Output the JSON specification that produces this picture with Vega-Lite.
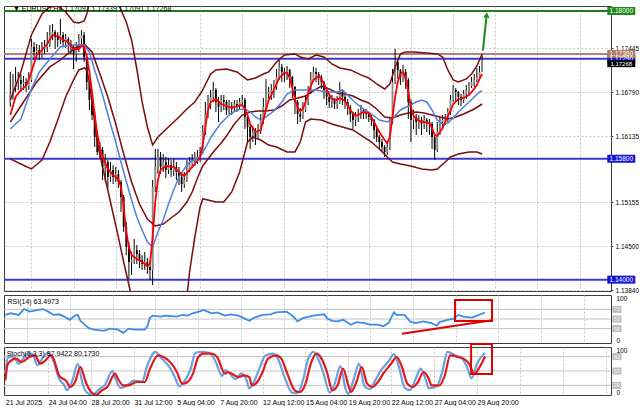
{
"$schema":"https://vega.github.io/schema/vega-lite/v6.json",
"background":"#ffffff",
"padding":{"left":0,"top":4,"right":0,"bottom":0},
"bounds":"flush",
"spacing":4,
"config":{"font":"Liberation Sans","view":{"stroke":"#3c3c3c","strokeWidth":1},"axis":{"labelFont":"Liberation Sans","labelFontSize":7,"labelColor":"#000000"}},
"datasets":{
"hl":[{"p":1.18,"k":"g"},{"p":1.1736,"k":"br"},{"p":1.1729,"k":"b"},{"p":1.158,"k":"b"},{"p":1.14,"k":"b"}],
"lab":[{"p":1.18,"t":"1.18000","k":"g"},{"p":1.1729,"t":"1.17290","k":"b"},{"p":1.1736,"t":"1.17360","k":"br"},{"p":1.158,"t":"1.15800","k":"b"},{"p":1.14,"t":"1.14000","k":"b"},{"p":1.17268,"t":"1.17268","k":"k"}],
"arr":[{"i":179.3,"p":1.1741,"i2":180.6,"p2":1.1790}],
"arrh":[{"i":180.7,"p":1.1794}],
"cd":[
{"i":0,"o":1.16645,"h":1.17092,"l":1.16571,"c":1.16764},
{"i":1,"o":1.16764,"h":1.17062,"l":1.16675,"c":1.16869},
{"i":2,"o":1.16869,"h":1.17167,"l":1.16794,"c":1.16943},
{"i":3,"o":1.16943,"h":1.17092,"l":1.16824,"c":1.16973},
{"i":4,"o":1.16973,"h":1.17062,"l":1.16794,"c":1.16913},
{"i":5,"o":1.16913,"h":1.17032,"l":1.16824,"c":1.16943},
{"i":6,"o":1.16943,"h":1.17003,"l":1.16794,"c":1.16883},
{"i":7,"o":1.16883,"h":1.17092,"l":1.16824,"c":1.16973},
{"i":8,"o":1.16973,"h":1.17583,"l":1.16943,"c":1.17464},
{"i":9,"o":1.17464,"h":1.17538,"l":1.17270,"c":1.17389},
{"i":10,"o":1.17389,"h":1.17508,"l":1.17285,"c":1.17419},
{"i":11,"o":1.17419,"h":1.17493,"l":1.17270,"c":1.17359},
{"i":12,"o":1.17359,"h":1.17538,"l":1.17300,"c":1.17434},
{"i":13,"o":1.17434,"h":1.17568,"l":1.17359,"c":1.17464},
{"i":14,"o":1.17464,"h":1.17687,"l":1.17389,"c":1.17508},
{"i":15,"o":1.17508,"h":1.17791,"l":1.17464,"c":1.17642},
{"i":16,"o":1.17642,"h":1.17806,"l":1.17568,"c":1.17687},
{"i":17,"o":1.17687,"h":1.17717,"l":1.17434,"c":1.17613},
{"i":18,"o":1.17613,"h":1.17687,"l":1.17464,"c":1.17568},
{"i":19,"o":1.17568,"h":1.17881,"l":1.17508,"c":1.17642},
{"i":20,"o":1.17642,"h":1.17687,"l":1.17464,"c":1.17538},
{"i":21,"o":1.17538,"h":1.17657,"l":1.17449,"c":1.17583},
{"i":22,"o":1.17583,"h":1.17613,"l":1.17389,"c":1.17508},
{"i":23,"o":1.17508,"h":1.17568,"l":1.17359,"c":1.17464},
{"i":24,"o":1.17464,"h":1.17493,"l":1.17137,"c":1.17359},
{"i":25,"o":1.17359,"h":1.17538,"l":1.17241,"c":1.17464},
{"i":26,"o":1.17464,"h":1.17657,"l":1.17389,"c":1.17583},
{"i":27,"o":1.17583,"h":1.17717,"l":1.17493,"c":1.17642},
{"i":28,"o":1.17642,"h":1.17687,"l":1.17241,"c":1.17315},
{"i":29,"o":1.17315,"h":1.17359,"l":1.16824,"c":1.16943},
{"i":30,"o":1.16943,"h":1.16973,"l":1.16526,"c":1.16675},
{"i":31,"o":1.16675,"h":1.16720,"l":1.16377,"c":1.16451},
{"i":32,"o":1.16451,"h":1.16496,"l":1.15975,"c":1.16124},
{"i":33,"o":1.16124,"h":1.16198,"l":1.15856,"c":1.15901},
{"i":34,"o":1.15901,"h":1.16049,"l":1.15811,"c":1.15930},
{"i":35,"o":1.15930,"h":1.15975,"l":1.15484,"c":1.15678},
{"i":36,"o":1.15678,"h":1.15871,"l":1.15454,"c":1.15752},
{"i":37,"o":1.15752,"h":1.15782,"l":1.15350,"c":1.15529},
{"i":38,"o":1.15529,"h":1.15752,"l":1.15454,"c":1.15633},
{"i":39,"o":1.15633,"h":1.15707,"l":1.15424,"c":1.15529},
{"i":40,"o":1.15529,"h":1.15678,"l":1.15454,"c":1.15573},
{"i":41,"o":1.15573,"h":1.15633,"l":1.15365,"c":1.15454},
{"i":42,"o":1.15454,"h":1.15484,"l":1.15007,"c":1.15231},
{"i":43,"o":1.15231,"h":1.15260,"l":1.14709,"c":1.14784},
{"i":44,"o":1.14784,"h":1.14858,"l":1.14366,"c":1.14486},
{"i":45,"o":1.14486,"h":1.14560,"l":1.14010,"c":1.14263},
{"i":46,"o":1.14263,"h":1.14411,"l":1.14069,"c":1.14292},
{"i":47,"o":1.14292,"h":1.14605,"l":1.14233,"c":1.14441},
{"i":48,"o":1.14441,"h":1.14515,"l":1.14233,"c":1.14381},
{"i":49,"o":1.14381,"h":1.14441,"l":1.14174,"c":1.14292},
{"i":50,"o":1.14292,"h":1.14366,"l":1.14144,"c":1.14233},
{"i":51,"o":1.14233,"h":1.14411,"l":1.14144,"c":1.14263},
{"i":52,"o":1.14263,"h":1.14322,"l":1.14084,"c":1.14189},
{"i":53,"o":1.14189,"h":1.14292,"l":1.13995,"c":1.14144},
{"i":54,"o":1.14144,"h":1.15484,"l":1.13920,"c":1.15380},
{"i":55,"o":1.15380,"h":1.15946,"l":1.15305,"c":1.15678},
{"i":56,"o":1.15678,"h":1.15946,"l":1.15573,"c":1.15827},
{"i":57,"o":1.15827,"h":1.15901,"l":1.15573,"c":1.15678},
{"i":58,"o":1.15678,"h":1.15871,"l":1.15603,"c":1.15752},
{"i":59,"o":1.15752,"h":1.15827,"l":1.15514,"c":1.15633},
{"i":60,"o":1.15633,"h":1.15811,"l":1.15573,"c":1.15707},
{"i":61,"o":1.15707,"h":1.15782,"l":1.15529,"c":1.15633},
{"i":62,"o":1.15633,"h":1.15797,"l":1.15544,"c":1.15678},
{"i":63,"o":1.15678,"h":1.15752,"l":1.15484,"c":1.15603},
{"i":64,"o":1.15603,"h":1.15678,"l":1.15409,"c":1.15529},
{"i":65,"o":1.15529,"h":1.15603,"l":1.15305,"c":1.15424},
{"i":66,"o":1.15424,"h":1.15603,"l":1.15365,"c":1.15484},
{"i":67,"o":1.15484,"h":1.15782,"l":1.15454,"c":1.15633},
{"i":68,"o":1.15633,"h":1.15827,"l":1.15603,"c":1.15722},
{"i":69,"o":1.15722,"h":1.15871,"l":1.15663,"c":1.15782},
{"i":70,"o":1.15782,"h":1.15901,"l":1.15692,"c":1.15811},
{"i":71,"o":1.15811,"h":1.15930,"l":1.15722,"c":1.15827},
{"i":72,"o":1.15827,"h":1.15975,"l":1.15752,"c":1.15901},
{"i":73,"o":1.15901,"h":1.16303,"l":1.15871,"c":1.16198},
{"i":74,"o":1.16198,"h":1.16645,"l":1.16154,"c":1.16466},
{"i":75,"o":1.16466,"h":1.16749,"l":1.16407,"c":1.16645},
{"i":76,"o":1.16645,"h":1.16824,"l":1.16541,"c":1.16720},
{"i":77,"o":1.16720,"h":1.16943,"l":1.16645,"c":1.16824},
{"i":78,"o":1.16824,"h":1.16854,"l":1.16496,"c":1.16645},
{"i":79,"o":1.16645,"h":1.16720,"l":1.16347,"c":1.16571},
{"i":80,"o":1.16571,"h":1.16749,"l":1.16496,"c":1.16675},
{"i":81,"o":1.16675,"h":1.16749,"l":1.16526,"c":1.16645},
{"i":82,"o":1.16645,"h":1.16675,"l":1.16451,"c":1.16526},
{"i":83,"o":1.16526,"h":1.16675,"l":1.16466,"c":1.16585},
{"i":84,"o":1.16585,"h":1.16645,"l":1.16451,"c":1.16556},
{"i":85,"o":1.16556,"h":1.16675,"l":1.16496,"c":1.16615},
{"i":86,"o":1.16615,"h":1.16675,"l":1.16496,"c":1.16585},
{"i":87,"o":1.16585,"h":1.16705,"l":1.16541,"c":1.16645},
{"i":88,"o":1.16645,"h":1.16749,"l":1.16585,"c":1.16675},
{"i":89,"o":1.16675,"h":1.16705,"l":1.16243,"c":1.16422},
{"i":90,"o":1.16422,"h":1.16466,"l":1.16049,"c":1.16273},
{"i":91,"o":1.16273,"h":1.16318,"l":1.15946,"c":1.16124},
{"i":92,"o":1.16124,"h":1.16288,"l":1.16049,"c":1.16198},
{"i":93,"o":1.16198,"h":1.16258,"l":1.16004,"c":1.16124},
{"i":94,"o":1.16124,"h":1.16318,"l":1.16079,"c":1.16228},
{"i":95,"o":1.16228,"h":1.16466,"l":1.16168,"c":1.16377},
{"i":96,"o":1.16377,"h":1.16705,"l":1.16318,"c":1.16571},
{"i":97,"o":1.16571,"h":1.16988,"l":1.16526,"c":1.16764},
{"i":98,"o":1.16764,"h":1.16869,"l":1.16645,"c":1.16794},
{"i":99,"o":1.16794,"h":1.16913,"l":1.16675,"c":1.16824},
{"i":100,"o":1.16824,"h":1.16973,"l":1.16705,"c":1.16869},
{"i":101,"o":1.16869,"h":1.17137,"l":1.16824,"c":1.17018},
{"i":102,"o":1.17018,"h":1.17285,"l":1.16973,"c":1.17167},
{"i":103,"o":1.17167,"h":1.17211,"l":1.16943,"c":1.17092},
{"i":104,"o":1.17092,"h":1.17152,"l":1.16943,"c":1.17062},
{"i":105,"o":1.17062,"h":1.17181,"l":1.16973,"c":1.17122},
{"i":106,"o":1.17122,"h":1.17137,"l":1.16854,"c":1.17018},
{"i":107,"o":1.17018,"h":1.17033,"l":1.16705,"c":1.16869},
{"i":108,"o":1.16869,"h":1.16883,"l":1.16466,"c":1.16645},
{"i":109,"o":1.16645,"h":1.16675,"l":1.16318,"c":1.16466},
{"i":110,"o":1.16466,"h":1.16556,"l":1.16347,"c":1.16422},
{"i":111,"o":1.16422,"h":1.16645,"l":1.16392,"c":1.16526},
{"i":112,"o":1.16526,"h":1.16749,"l":1.16496,"c":1.16645},
{"i":113,"o":1.16645,"h":1.16883,"l":1.16600,"c":1.16794},
{"i":114,"o":1.16794,"h":1.17092,"l":1.16764,"c":1.16973},
{"i":115,"o":1.16973,"h":1.17167,"l":1.16943,"c":1.17092},
{"i":116,"o":1.17092,"h":1.17152,"l":1.16943,"c":1.17062},
{"i":117,"o":1.17062,"h":1.17092,"l":1.16898,"c":1.17018},
{"i":118,"o":1.17018,"h":1.17048,"l":1.16839,"c":1.16943},
{"i":119,"o":1.16943,"h":1.16958,"l":1.16690,"c":1.16824},
{"i":120,"o":1.16824,"h":1.16839,"l":1.16600,"c":1.16720},
{"i":121,"o":1.16720,"h":1.16764,"l":1.16556,"c":1.16645},
{"i":122,"o":1.16645,"h":1.16749,"l":1.16556,"c":1.16675},
{"i":123,"o":1.16675,"h":1.16705,"l":1.16541,"c":1.16615},
{"i":124,"o":1.16615,"h":1.16734,"l":1.16541,"c":1.16645},
{"i":125,"o":1.16645,"h":1.16943,"l":1.16615,"c":1.16794},
{"i":126,"o":1.16794,"h":1.16839,"l":1.16600,"c":1.16720},
{"i":127,"o":1.16720,"h":1.16749,"l":1.16541,"c":1.16645},
{"i":128,"o":1.16645,"h":1.16690,"l":1.16451,"c":1.16571},
{"i":129,"o":1.16571,"h":1.16600,"l":1.16347,"c":1.16466},
{"i":130,"o":1.16466,"h":1.16496,"l":1.16243,"c":1.16377},
{"i":131,"o":1.16377,"h":1.16496,"l":1.16288,"c":1.16422},
{"i":132,"o":1.16422,"h":1.16541,"l":1.16347,"c":1.16466},
{"i":133,"o":1.16466,"h":1.16600,"l":1.16392,"c":1.16526},
{"i":134,"o":1.16526,"h":1.16556,"l":1.16392,"c":1.16496},
{"i":135,"o":1.16496,"h":1.16541,"l":1.16392,"c":1.16466},
{"i":136,"o":1.16466,"h":1.16496,"l":1.16347,"c":1.16422},
{"i":137,"o":1.16422,"h":1.16451,"l":1.16288,"c":1.16377},
{"i":138,"o":1.16377,"h":1.16392,"l":1.16094,"c":1.16228},
{"i":139,"o":1.16228,"h":1.16258,"l":1.16049,"c":1.16124},
{"i":140,"o":1.16124,"h":1.16154,"l":1.15946,"c":1.16049},
{"i":141,"o":1.16049,"h":1.16094,"l":1.15901,"c":1.15975},
{"i":142,"o":1.15975,"h":1.16004,"l":1.15827,"c":1.15901},
{"i":143,"o":1.15901,"h":1.16049,"l":1.15856,"c":1.15975},
{"i":144,"o":1.15975,"h":1.16422,"l":1.15930,"c":1.16347},
{"i":145,"o":1.16347,"h":1.17137,"l":1.16318,"c":1.16943},
{"i":146,"o":1.16943,"h":1.17434,"l":1.16913,"c":1.17241},
{"i":147,"o":1.17241,"h":1.17285,"l":1.16988,"c":1.17122},
{"i":148,"o":1.17122,"h":1.17137,"l":1.16898,"c":1.17018},
{"i":149,"o":1.17018,"h":1.17196,"l":1.16943,"c":1.17092},
{"i":150,"o":1.17092,"h":1.17137,"l":1.16839,"c":1.16973},
{"i":151,"o":1.16973,"h":1.17003,"l":1.16392,"c":1.16645},
{"i":152,"o":1.16645,"h":1.16675,"l":1.16049,"c":1.16377},
{"i":153,"o":1.16377,"h":1.16526,"l":1.16243,"c":1.16422},
{"i":154,"o":1.16422,"h":1.16466,"l":1.16154,"c":1.16347},
{"i":155,"o":1.16347,"h":1.16451,"l":1.16243,"c":1.16377},
{"i":156,"o":1.16377,"h":1.16422,"l":1.16154,"c":1.16318},
{"i":157,"o":1.16318,"h":1.16451,"l":1.16243,"c":1.16377},
{"i":158,"o":1.16377,"h":1.16407,"l":1.16198,"c":1.16347},
{"i":159,"o":1.16347,"h":1.16392,"l":1.16154,"c":1.16318},
{"i":160,"o":1.16318,"h":1.16347,"l":1.15946,"c":1.16124},
{"i":161,"o":1.16124,"h":1.16154,"l":1.15782,"c":1.15930},
{"i":162,"o":1.15930,"h":1.16347,"l":1.15901,"c":1.16198},
{"i":163,"o":1.16198,"h":1.16422,"l":1.16154,"c":1.16347},
{"i":164,"o":1.16347,"h":1.16451,"l":1.16243,"c":1.16377},
{"i":165,"o":1.16377,"h":1.16466,"l":1.16303,"c":1.16422},
{"i":166,"o":1.16422,"h":1.16556,"l":1.16347,"c":1.16496},
{"i":167,"o":1.16496,"h":1.16749,"l":1.16451,"c":1.16675},
{"i":168,"o":1.16675,"h":1.16898,"l":1.16645,"c":1.16824},
{"i":169,"o":1.16824,"h":1.16854,"l":1.16645,"c":1.16794},
{"i":170,"o":1.16794,"h":1.16809,"l":1.16600,"c":1.16720},
{"i":171,"o":1.16720,"h":1.16764,"l":1.16585,"c":1.16675},
{"i":172,"o":1.16675,"h":1.16824,"l":1.16630,"c":1.16764},
{"i":173,"o":1.16764,"h":1.16898,"l":1.16690,"c":1.16824},
{"i":174,"o":1.16824,"h":1.16943,"l":1.16764,"c":1.16883},
{"i":175,"o":1.16883,"h":1.17018,"l":1.16854,"c":1.16943},
{"i":176,"o":1.16943,"h":1.17062,"l":1.16869,"c":1.16973},
{"i":177,"o":1.16973,"h":1.17152,"l":1.16943,"c":1.17018},
{"i":178,"o":1.17018,"h":1.17181,"l":1.16973,"c":1.17091},
{"i":179,"o":1.17091,"h":1.17339,"l":1.17091,"c":1.17268}
],
"red":[{"i":0,"v":1.16451},{"i":2,"v":1.16720},{"i":4,"v":1.16824},{"i":6,"v":1.16883},{"i":8,"v":1.17092},{"i":10,"v":1.17345},{"i":12,"v":1.17419},{"i":14,"v":1.17508},{"i":16,"v":1.17642},{"i":18,"v":1.17627},{"i":20,"v":1.17568},{"i":22,"v":1.17538},{"i":24,"v":1.17434},{"i":26,"v":1.17434},{"i":27,"v":1.17478},{"i":28,"v":1.17464},{"i":29,"v":1.17315},{"i":30,"v":1.17092},{"i":31,"v":1.16794},{"i":32,"v":1.16466},{"i":33,"v":1.16168},{"i":34,"v":1.15975},{"i":35,"v":1.15827},{"i":37,"v":1.15648},{"i":39,"v":1.15558},{"i":41,"v":1.15499},{"i":42,"v":1.15380},{"i":43,"v":1.15082},{"i":44,"v":1.14709},{"i":45,"v":1.14486},{"i":46,"v":1.14366},{"i":48,"v":1.14307},{"i":50,"v":1.14263},{"i":52,"v":1.14203},{"i":53,"v":1.14233},{"i":54,"v":1.14635},{"i":55,"v":1.15156},{"i":56,"v":1.15484},{"i":57,"v":1.15633},{"i":59,"v":1.15692},{"i":62,"v":1.15678},{"i":64,"v":1.15603},{"i":66,"v":1.15544},{"i":68,"v":1.15633},{"i":70,"v":1.15722},{"i":72,"v":1.15827},{"i":73,"v":1.16005},{"i":74,"v":1.16273},{"i":75,"v":1.16526},{"i":76,"v":1.16645},{"i":78,"v":1.16690},{"i":80,"v":1.16615},{"i":82,"v":1.16585},{"i":84,"v":1.16556},{"i":86,"v":1.16585},{"i":88,"v":1.16600},{"i":89,"v":1.16541},{"i":90,"v":1.16451},{"i":91,"v":1.16318},{"i":93,"v":1.16198},{"i":95,"v":1.16228},{"i":96,"v":1.16377},{"i":97,"v":1.16526},{"i":98,"v":1.16675},{"i":100,"v":1.16824},{"i":102,"v":1.17003},{"i":104,"v":1.17077},{"i":105,"v":1.17077},{"i":106,"v":1.17003},{"i":107,"v":1.16854},{"i":108,"v":1.16690},{"i":109,"v":1.16556},{"i":110,"v":1.16511},{"i":111,"v":1.16541},{"i":112,"v":1.16645},{"i":113,"v":1.16764},{"i":114,"v":1.16883},{"i":115,"v":1.16973},{"i":117,"v":1.17033},{"i":118,"v":1.16988},{"i":119,"v":1.16913},{"i":120,"v":1.16824},{"i":122,"v":1.16690},{"i":124,"v":1.16675},{"i":125,"v":1.16705},{"i":127,"v":1.16660},{"i":129,"v":1.16526},{"i":131,"v":1.16437},{"i":132,"v":1.16451},{"i":134,"v":1.16496},{"i":136,"v":1.16481},{"i":138,"v":1.16347},{"i":140,"v":1.16198},{"i":142,"v":1.16079},{"i":143,"v":1.16034},{"i":144,"v":1.16124},{"i":145,"v":1.16422},{"i":146,"v":1.16720},{"i":147,"v":1.16943},{"i":148,"v":1.17062},{"i":149,"v":1.17092},{"i":150,"v":1.17003},{"i":151,"v":1.16794},{"i":152,"v":1.16571},{"i":153,"v":1.16437},{"i":155,"v":1.16362},{"i":157,"v":1.16347},{"i":159,"v":1.16332},{"i":160,"v":1.16258},{"i":161,"v":1.16154},{"i":162,"v":1.16139},{"i":163,"v":1.16198},{"i":164,"v":1.16258},{"i":165,"v":1.16347},{"i":166,"v":1.16437},{"i":167,"v":1.16511},{"i":168,"v":1.16615},{"i":170,"v":1.16690},{"i":172,"v":1.16705},{"i":174,"v":1.16749},{"i":176,"v":1.16839},{"i":177,"v":1.16898},{"i":178,"v":1.16988},{"i":179,"v":1.17062}],
"blue":[{"i":0,"v":1.16243},{"i":4,"v":1.16392},{"i":8,"v":1.16839},{"i":11,"v":1.17092},{"i":15,"v":1.17285},{"i":19,"v":1.17464},{"i":24,"v":1.17493},{"i":28,"v":1.17493},{"i":30,"v":1.17389},{"i":32,"v":1.17122},{"i":35,"v":1.16749},{"i":38,"v":1.16318},{"i":40,"v":1.16049},{"i":43,"v":1.15603},{"i":46,"v":1.15186},{"i":48,"v":1.14933},{"i":50,"v":1.14739},{"i":52,"v":1.14560},{"i":54,"v":1.14486},{"i":56,"v":1.14709},{"i":58,"v":1.14888},{"i":60,"v":1.15126},{"i":62,"v":1.15335},{"i":64,"v":1.15529},{"i":66,"v":1.15648},{"i":68,"v":1.15752},{"i":70,"v":1.15782},{"i":72,"v":1.15827},{"i":74,"v":1.15960},{"i":76,"v":1.16109},{"i":78,"v":1.16228},{"i":80,"v":1.16332},{"i":83,"v":1.16451},{"i":86,"v":1.16526},{"i":89,"v":1.16541},{"i":91,"v":1.16496},{"i":93,"v":1.16422},{"i":95,"v":1.16377},{"i":97,"v":1.16422},{"i":100,"v":1.16511},{"i":103,"v":1.16645},{"i":105,"v":1.16764},{"i":108,"v":1.16824},{"i":112,"v":1.16824},{"i":116,"v":1.16824},{"i":120,"v":1.16794},{"i":124,"v":1.16794},{"i":126,"v":1.16824},{"i":128,"v":1.16749},{"i":131,"v":1.16630},{"i":134,"v":1.16541},{"i":137,"v":1.16466},{"i":140,"v":1.16377},{"i":143,"v":1.16347},{"i":145,"v":1.16392},{"i":148,"v":1.16526},{"i":151,"v":1.16585},{"i":154,"v":1.16645},{"i":156,"v":1.16675},{"i":158,"v":1.16645},{"i":160,"v":1.16526},{"i":162,"v":1.16377},{"i":164,"v":1.16318},{"i":166,"v":1.16332},{"i":168,"v":1.16407},{"i":170,"v":1.16496},{"i":172,"v":1.16571},{"i":174,"v":1.16645},{"i":176,"v":1.16720},{"i":178,"v":1.16794},{"i":179,"v":1.16809}],
"bu":[{"i":0,"v":1.16675},{"i":4,"v":1.17092},{"i":8,"v":1.17642},{"i":12,"v":1.17955},{"i":15,"v":1.18060},{"i":18,"v":1.18075},{"i":21,"v":1.17985},{"i":24,"v":1.17836},{"i":26,"v":1.17821},{"i":28,"v":1.17851},{"i":29,"v":1.17955},{"i":30,"v":1.18134},{"i":32,"v":1.18357},{"i":36,"v":1.18506},{"i":40,"v":1.18208},{"i":42,"v":1.18015},{"i":44,"v":1.17836},{"i":46,"v":1.17568},{"i":48,"v":1.17136},{"i":50,"v":1.16645},{"i":52,"v":1.16273},{"i":54,"v":1.16004},{"i":56,"v":1.16124},{"i":60,"v":1.16273},{"i":64,"v":1.16422},{"i":67,"v":1.16541},{"i":70,"v":1.16645},{"i":73,"v":1.16824},{"i":76,"v":1.17062},{"i":78,"v":1.17122},{"i":82,"v":1.17137},{"i":86,"v":1.17092},{"i":90,"v":1.16973},{"i":93,"v":1.17003},{"i":96,"v":1.17062},{"i":98,"v":1.17092},{"i":101,"v":1.17241},{"i":104,"v":1.17345},{"i":108,"v":1.17360},{"i":110,"v":1.17315},{"i":113,"v":1.17285},{"i":116,"v":1.17345},{"i":119,"v":1.17315},{"i":122,"v":1.17211},{"i":125,"v":1.17152},{"i":129,"v":1.17122},{"i":133,"v":1.17048},{"i":136,"v":1.17003},{"i":139,"v":1.16913},{"i":142,"v":1.16839},{"i":144,"v":1.16913},{"i":146,"v":1.17167},{"i":148,"v":1.17360},{"i":150,"v":1.17389},{"i":153,"v":1.17389},{"i":158,"v":1.17375},{"i":162,"v":1.17360},{"i":164,"v":1.17315},{"i":166,"v":1.17122},{"i":168,"v":1.16973},{"i":170,"v":1.16943},{"i":173,"v":1.16988},{"i":175,"v":1.17062},{"i":177,"v":1.17181},{"i":179,"v":1.17360}],
"bm":[{"i":0,"v":1.16347},{"i":5,"v":1.16645},{"i":10,"v":1.16943},{"i":15,"v":1.17167},{"i":19,"v":1.17270},{"i":24,"v":1.17434},{"i":28,"v":1.17508},{"i":31,"v":1.17389},{"i":34,"v":1.17062},{"i":37,"v":1.16720},{"i":40,"v":1.16317},{"i":43,"v":1.15871},{"i":46,"v":1.15454},{"i":49,"v":1.15126},{"i":52,"v":1.14903},{"i":55,"v":1.14798},{"i":58,"v":1.14828},{"i":61,"v":1.14918},{"i":64,"v":1.15007},{"i":67,"v":1.15156},{"i":69,"v":1.15305},{"i":71,"v":1.15514},{"i":73,"v":1.15692},{"i":75,"v":1.15797},{"i":77,"v":1.15901},{"i":80,"v":1.16034},{"i":82,"v":1.16138},{"i":85,"v":1.16317},{"i":88,"v":1.16451},{"i":91,"v":1.16496},{"i":94,"v":1.16511},{"i":97,"v":1.16511},{"i":100,"v":1.16526},{"i":103,"v":1.16585},{"i":106,"v":1.16675},{"i":109,"v":1.16705},{"i":112,"v":1.16734},{"i":115,"v":1.16809},{"i":118,"v":1.16883},{"i":121,"v":1.16839},{"i":124,"v":1.16779},{"i":127,"v":1.16764},{"i":130,"v":1.16734},{"i":133,"v":1.16675},{"i":136,"v":1.16630},{"i":139,"v":1.16541},{"i":142,"v":1.16422},{"i":145,"v":1.16407},{"i":148,"v":1.16451},{"i":151,"v":1.16481},{"i":154,"v":1.16496},{"i":157,"v":1.16481},{"i":160,"v":1.16451},{"i":163,"v":1.16422},{"i":166,"v":1.16392},{"i":169,"v":1.16422},{"i":172,"v":1.16466},{"i":176,"v":1.16541},{"i":179,"v":1.16615}],
"bl":[{"i":0,"v":1.15797},{"i":4,"v":1.15722},{"i":8,"v":1.15648},{"i":12,"v":1.15782},{"i":15,"v":1.16049},{"i":18,"v":1.16377},{"i":21,"v":1.16720},{"i":24,"v":1.16973},{"i":26,"v":1.17122},{"i":28,"v":1.17152},{"i":29,"v":1.17122},{"i":30,"v":1.16943},{"i":31,"v":1.16645},{"i":32,"v":1.16347},{"i":33,"v":1.16049},{"i":35,"v":1.15678},{"i":38,"v":1.15156},{"i":41,"v":1.14634},{"i":43,"v":1.14263},{"i":45,"v":1.13920},{"i":46,"v":1.13741},{"i":48,"v":1.13369},{"i":66,"v":1.13369},{"i":67,"v":1.13741},{"i":68,"v":1.14114},{"i":70,"v":1.14634},{"i":72,"v":1.15082},{"i":73,"v":1.15201},{"i":75,"v":1.15186},{"i":78,"v":1.15156},{"i":81,"v":1.15156},{"i":84,"v":1.15305},{"i":87,"v":1.15603},{"i":89,"v":1.15901},{"i":90,"v":1.16049},{"i":92,"v":1.16124},{"i":95,"v":1.16079},{"i":98,"v":1.16004},{"i":101,"v":1.15975},{"i":105,"v":1.15901},{"i":108,"v":1.15901},{"i":110,"v":1.16049},{"i":112,"v":1.16347},{"i":114,"v":1.16392},{"i":118,"v":1.16377},{"i":122,"v":1.16317},{"i":126,"v":1.16273},{"i":130,"v":1.16228},{"i":134,"v":1.16124},{"i":137,"v":1.16049},{"i":140,"v":1.15946},{"i":143,"v":1.15827},{"i":145,"v":1.15752},{"i":148,"v":1.15722},{"i":152,"v":1.15692},{"i":156,"v":1.15648},{"i":160,"v":1.15633},{"i":162,"v":1.15648},{"i":165,"v":1.15752},{"i":167,"v":1.15827},{"i":170,"v":1.15871},{"i":174,"v":1.15901},{"i":177,"v":1.15901},{"i":179,"v":1.15871}],
"rsi":[{"i":0,"v":58.5},{"i":2,"v":61.9},{"i":5,"v":58.5},{"i":7,"v":70.7},{"i":9,"v":65.3},{"i":12,"v":68.7},{"i":14,"v":70.7},{"i":16,"v":65.3},{"i":18,"v":58.5},{"i":20,"v":59.8},{"i":22,"v":55.1},{"i":24,"v":48.3},{"i":26,"v":57.1},{"i":27,"v":58.5},{"i":28,"v":46.2},{"i":31,"v":31.3},{"i":33,"v":27.9},{"i":36,"v":25.8},{"i":37,"v":25.8},{"i":39,"v":29.9},{"i":42,"v":27.9},{"i":44,"v":21.1},{"i":46,"v":29.9},{"i":48,"v":27.9},{"i":52,"v":27.9},{"i":53,"v":34.7},{"i":54,"v":53.0},{"i":55,"v":57.1},{"i":58,"v":55.1},{"i":60,"v":57.1},{"i":64,"v":55.1},{"i":66,"v":58.5},{"i":68,"v":57.1},{"i":70,"v":61.9},{"i":73,"v":66.7},{"i":74,"v":68.7},{"i":77,"v":61.9},{"i":79,"v":63.9},{"i":82,"v":57.1},{"i":84,"v":59.8},{"i":87,"v":57.1},{"i":89,"v":51.7},{"i":91,"v":46.2},{"i":93,"v":53.0},{"i":96,"v":58.5},{"i":99,"v":59.8},{"i":101,"v":63.9},{"i":105,"v":65.3},{"i":107,"v":57.1},{"i":108,"v":51.7},{"i":109,"v":44.9},{"i":111,"v":51.7},{"i":115,"v":57.1},{"i":119,"v":59.8},{"i":120,"v":51.7},{"i":122,"v":46.2},{"i":124,"v":44.9},{"i":126,"v":48.3},{"i":129,"v":38.1},{"i":131,"v":43.5},{"i":134,"v":41.5},{"i":136,"v":38.1},{"i":139,"v":38.1},{"i":141,"v":34.7},{"i":143,"v":41.5},{"i":144,"v":53.0},{"i":145,"v":63.9},{"i":146,"v":58.5},{"i":149,"v":58.5},{"i":151,"v":44.9},{"i":153,"v":41.5},{"i":156,"v":44.9},{"i":159,"v":41.5},{"i":161,"v":36.0},{"i":162,"v":43.5},{"i":165,"v":48.3},{"i":167,"v":50.3},{"i":169,"v":58.5},{"i":171,"v":55.1},{"i":174,"v":53.0},{"i":176,"v":57.1},{"i":179,"v":63.5}],
"sd":[{"i":0,"v":30.6},{"i":1,"v":65.3},{"i":4,"v":75.7},{"i":6,"v":68.7},{"i":9,"v":79.2},{"i":11,"v":82.6},{"i":13,"v":65.3},{"i":15,"v":72.2},{"i":17,"v":82.6},{"i":18,"v":75.7},{"i":20,"v":41.0},{"i":23,"v":27.1},{"i":24,"v":16.7},{"i":26,"v":27.1},{"i":28,"v":58.3},{"i":30,"v":27.1},{"i":32,"v":6.2},{"i":34,"v":0.5},{"i":36,"v":9.7},{"i":38,"v":16.7},{"i":41,"v":44.4},{"i":42,"v":34.0},{"i":44,"v":20.1},{"i":46,"v":20.1},{"i":49,"v":27.1},{"i":52,"v":27.1},{"i":54,"v":54.9},{"i":57,"v":82.6},{"i":59,"v":79.2},{"i":62,"v":65.3},{"i":64,"v":47.9},{"i":66,"v":23.6},{"i":68,"v":27.1},{"i":70,"v":44.4},{"i":72,"v":79.2},{"i":74,"v":86.1},{"i":77,"v":86.1},{"i":79,"v":79.2},{"i":82,"v":44.4},{"i":83,"v":47.9},{"i":87,"v":37.5},{"i":89,"v":41.0},{"i":91,"v":37.5},{"i":92,"v":20.1},{"i":94,"v":27.1},{"i":96,"v":47.9},{"i":98,"v":75.7},{"i":101,"v":82.6},{"i":103,"v":75.7},{"i":105,"v":47.9},{"i":108,"v":9.7},{"i":110,"v":6.2},{"i":112,"v":23.6},{"i":114,"v":65.3},{"i":116,"v":86.1},{"i":118,"v":75.7},{"i":120,"v":47.9},{"i":122,"v":9.7},{"i":124,"v":20.1},{"i":126,"v":54.9},{"i":128,"v":20.1},{"i":129,"v":6.2},{"i":131,"v":27.1},{"i":133,"v":58.3},{"i":135,"v":23.6},{"i":137,"v":16.7},{"i":139,"v":27.1},{"i":141,"v":44.4},{"i":144,"v":65.3},{"i":146,"v":79.2},{"i":148,"v":58.3},{"i":150,"v":23.6},{"i":152,"v":16.7},{"i":154,"v":27.1},{"i":156,"v":47.9},{"i":158,"v":34.0},{"i":159,"v":20.1},{"i":162,"v":20.1},{"i":164,"v":41.0},{"i":166,"v":82.6},{"i":169,"v":79.2},{"i":171,"v":75.7},{"i":173,"v":65.3},{"i":175,"v":44.4},{"i":177,"v":58.3},{"i":179,"v":80.2}],
"sk":[{"i":0,"v":45},{"i":1,"v":78},{"i":3,"v":80},{"i":5,"v":65},{"i":8,"v":85},{"i":10,"v":86},{"i":12,"v":62},{"i":14,"v":78},{"i":16,"v":88},{"i":18,"v":70},{"i":20,"v":35},{"i":22,"v":20},{"i":23,"v":10},{"i":25,"v":30},{"i":27,"v":65},{"i":29,"v":20},{"i":31,"v":3},{"i":33,"v":2},{"i":35,"v":12},{"i":37,"v":20},{"i":40,"v":50},{"i":41,"v":35},{"i":43,"v":15},{"i":45,"v":18},{"i":48,"v":30},{"i":51,"v":28},{"i":53,"v":62},{"i":56,"v":90},{"i":58,"v":78},{"i":61,"v":60},{"i":63,"v":40},{"i":65,"v":18},{"i":67,"v":30},{"i":69,"v":52},{"i":71,"v":88},{"i":73,"v":90},{"i":76,"v":88},{"i":78,"v":75},{"i":81,"v":40},{"i":82,"v":52},{"i":86,"v":33},{"i":88,"v":45},{"i":90,"v":32},{"i":91,"v":14},{"i":93,"v":30},{"i":95,"v":58},{"i":97,"v":82},{"i":100,"v":86},{"i":102,"v":72},{"i":104,"v":40},{"i":107,"v":5},{"i":109,"v":4},{"i":111,"v":30},{"i":113,"v":75},{"i":115,"v":90},{"i":117,"v":72},{"i":119,"v":40},{"i":121,"v":5},{"i":123,"v":25},{"i":125,"v":60},{"i":127,"v":12},{"i":128,"v":2},{"i":130,"v":33},{"i":132,"v":65},{"i":134,"v":18},{"i":136,"v":12},{"i":138,"v":30},{"i":140,"v":50},{"i":143,"v":70},{"i":145,"v":85},{"i":147,"v":55},{"i":149,"v":15},{"i":151,"v":10},{"i":153,"v":32},{"i":155,"v":55},{"i":157,"v":30},{"i":158,"v":14},{"i":161,"v":18},{"i":163,"v":48},{"i":165,"v":90},{"i":168,"v":82},{"i":170,"v":78},{"i":172,"v":62},{"i":174,"v":35},{"i":176,"v":65},{"i":179,"v":87.9}],
"rl":[{"v":70},{"v":50},{"v":30}],
"sl":[{"v":80},{"v":50},{"v":20}],
"rbox":[{"i":167.8,"i2":181.6,"v":89.6,"v2":45.8}],
"rtr":[{"i":148,"v":19.4,"i2":181.6,"v2":47.3}],
"sbox":[{"i":173.8,"i2":181.6,"v":106,"v2":43.8}]
},
"vconcat":[
{"width":607,"height":285,"layer":[
{"data":{"name":"hl"},"mark":{"type":"rule","strokeWidth":2},"encoding":{"y":{"field":"p","type":"quantitative","scale":{"domain":[1.13831,1.18074],"nice":false,"zero":false},"axis":{"orient":"right","title":null,"values":[1.1384,1.1417,1.145,1.14825,1.15155,1.1548,1.16135,1.16465,1.1679,1.1712,1.17445,1.17775],"format":".5f","grid":true,"gridColor":"#c8c8c8","gridDash":[2,2],"domain":false,"tickSize":2,"tickColor":"#404040","labelPadding":2,"labelFontSize":6.5}},"color":{"condition":[{"test":"datum.k==='g'","value":"#1e7b1e"},{"test":"datum.k==='br'","value":"#b48270"}],"value":"#3a3ad0"}}},
{"data":{"name":"cd"},"mark":{"type":"rule","color":"#000000","strokeWidth":1},"encoding":{"x":{"field":"i","type":"quantitative","scale":{"domain":[-0.5,226],"nice":false,"zero":false},"axis":{"title":null,"values":[8,16,24,32,40,48,56,64,72,80,88,96,104,112,120,128,136,144,152,160,168,176,184,192,200,208,216,224],"grid":true,"gridColor":"#c8c8c8","gridDash":[2,2],"labels":false,"ticks":false,"domain":false}},"y":{"field":"l","type":"quantitative","scale":{"domain":[1.13831,1.18074],"nice":false,"zero":false}},"y2":{"field":"h"}}},
{"data":{"name":"cd"},"mark":{"type":"bar","width":1.8},"encoding":{"x":{"field":"i","type":"quantitative","scale":{"domain":[-0.5,226],"nice":false,"zero":false}},"y":{"field":"o","type":"quantitative","scale":{"domain":[1.13831,1.18074],"nice":false,"zero":false}},"y2":{"field":"c"},"color":{"condition":{"test":"datum.c>=datum.o","value":"#8a8a8a"},"value":"#000000"}}},
{"data":{"name":"bu"},"mark":{"type":"line","color":"#7b0c0c","strokeWidth":1.5,"clip":true},"encoding":{"x":{"field":"i","type":"quantitative","scale":{"domain":[-0.5,226],"nice":false,"zero":false}},"y":{"field":"v","type":"quantitative","scale":{"domain":[1.13831,1.18074],"nice":false,"zero":false}}}},
{"data":{"name":"bm"},"mark":{"type":"line","color":"#7b0c0c","strokeWidth":1.5,"clip":true},"encoding":{"x":{"field":"i","type":"quantitative","scale":{"domain":[-0.5,226],"nice":false,"zero":false}},"y":{"field":"v","type":"quantitative","scale":{"domain":[1.13831,1.18074],"nice":false,"zero":false}}}},
{"data":{"name":"bl"},"mark":{"type":"line","color":"#7b0c0c","strokeWidth":1.5,"clip":true},"encoding":{"x":{"field":"i","type":"quantitative","scale":{"domain":[-0.5,226],"nice":false,"zero":false}},"y":{"field":"v","type":"quantitative","scale":{"domain":[1.13831,1.18074],"nice":false,"zero":false}}}},
{"data":{"name":"blue"},"mark":{"type":"line","color":"#4f80dc","strokeWidth":1.5,"clip":true},"encoding":{"x":{"field":"i","type":"quantitative","scale":{"domain":[-0.5,226],"nice":false,"zero":false}},"y":{"field":"v","type":"quantitative","scale":{"domain":[1.13831,1.18074],"nice":false,"zero":false}}}},
{"data":{"name":"red"},"mark":{"type":"line","color":"#ff0000","strokeWidth":1.8,"clip":true},"encoding":{"x":{"field":"i","type":"quantitative","scale":{"domain":[-0.5,226],"nice":false,"zero":false}},"y":{"field":"v","type":"quantitative","scale":{"domain":[1.13831,1.18074],"nice":false,"zero":false}}}},
{"data":{"name":"arr"},"mark":{"type":"rule","color":"#1a8c1a","strokeWidth":2},"encoding":{"x":{"field":"i","type":"quantitative","scale":{"domain":[-0.5,226],"nice":false,"zero":false}},"y":{"field":"p","type":"quantitative","scale":{"domain":[1.13831,1.18074],"nice":false,"zero":false}},"x2":{"field":"i2"},"y2":{"field":"p2"}}},
{"data":{"name":"arrh"},"mark":{"type":"point","shape":"triangle-up","filled":true,"size":40,"angle":5,"color":"#1a8c1a","opacity":1},"encoding":{"x":{"field":"i","type":"quantitative","scale":{"domain":[-0.5,226],"nice":false,"zero":false}},"y":{"field":"p","type":"quantitative","scale":{"domain":[1.13831,1.18074],"nice":false,"zero":false}}}},
{"data":{"name":"lab"},"transform":[{"filter":"datum.k!=='k'"}],"mark":{"type":"rect","width":28,"height":8,"clip":false},"encoding":{"x":{"datum":231.8,"type":"quantitative","scale":{"domain":[-0.5,226],"nice":false,"zero":false}},"y":{"field":"p","type":"quantitative","scale":{"domain":[1.13831,1.18074],"nice":false,"zero":false}},"color":{"condition":[{"test":"datum.k==='g'","value":"#1e8a1e"},{"test":"datum.k==='br'","value":"#b07a66"}],"value":"#1414d8"}}},
{"data":{"name":"lab"},"transform":[{"filter":"datum.k!=='k'"}],"mark":{"type":"text","fontSize":6.5,"align":"center","baseline":"middle","color":"#ffffff","clip":false},"encoding":{"x":{"datum":231.8,"type":"quantitative","scale":{"domain":[-0.5,226],"nice":false,"zero":false}},"y":{"field":"p","type":"quantitative","scale":{"domain":[1.13831,1.18074],"nice":false,"zero":false}},"text":{"field":"t"}}},
{"data":{"name":"lab"},"transform":[{"filter":"datum.k==='k'"}],"mark":{"type":"rect","width":28,"height":7,"yOffset":3.5,"color":"#000000","clip":false},"encoding":{"x":{"datum":231.8,"type":"quantitative","scale":{"domain":[-0.5,226],"nice":false,"zero":false}},"y":{"field":"p","type":"quantitative","scale":{"domain":[1.13831,1.18074],"nice":false,"zero":false}}}},
{"data":{"name":"lab"},"transform":[{"filter":"datum.k==='k'"}],"mark":{"type":"text","fontSize":6,"align":"center","baseline":"middle","yOffset":3.5,"color":"#ffffff","clip":false},"encoding":{"x":{"datum":231.8,"type":"quantitative","scale":{"domain":[-0.5,226],"nice":false,"zero":false}},"y":{"field":"p","type":"quantitative","scale":{"domain":[1.13831,1.18074],"nice":false,"zero":false}},"text":{"field":"t"}}},
{"data":{"values":[{"t":"▼  EURUSD,H4  1.17091 1.17339 1.17091 1.17268"}]},"mark":{"type":"text","fontSize":7,"align":"left","baseline":"middle","color":"#000000"},"encoding":{"x":{"datum":1,"type":"quantitative","scale":{"domain":[-0.5,226],"nice":false,"zero":false}},"y":{"datum":1.1803,"type":"quantitative","scale":{"domain":[1.13831,1.18074],"nice":false,"zero":false}},"text":{"field":"t"}}}
]},
{"width":607,"height":48,"layer":[
{"data":{"name":"rl"},"mark":{"type":"rule","color":"#c4c4c4","strokeWidth":1},"encoding":{"y":{"field":"v","type":"quantitative","scale":{"domain":[0,100],"nice":false,"zero":false},"axis":{"orient":"right","title":null,"values":[0,100],"labelFlush":true,"grid":false,"domain":false,"ticks":false,"labelPadding":5,"labelFontSize":6.5}}}},
{"data":{"name":"rsi"},"mark":{"type":"line","color":"#3a8de6","strokeWidth":1.8},"encoding":{"x":{"field":"i","type":"quantitative","scale":{"domain":[-0.5,226],"nice":false,"zero":false},"axis":{"title":null,"values":[8,16,24,32,40,48,56,64,72,80,88,96,104,112,120,128,136,144,152,160,168,176,184,192,200,208,216,224],"grid":true,"gridColor":"#c8c8c8","gridDash":[2,2],"labels":false,"ticks":false,"domain":false}},"y":{"field":"v","type":"quantitative","scale":{"domain":[0,100],"nice":false,"zero":false}}}},
{"data":{"name":"rbox"},"mark":{"type":"rect","filled":false,"color":"#e00000","strokeWidth":2,"clip":false},"encoding":{"x":{"field":"i","type":"quantitative","scale":{"domain":[-0.5,226],"nice":false,"zero":false}},"x2":{"field":"i2"},"y":{"field":"v","type":"quantitative","scale":{"domain":[0,100],"nice":false,"zero":false}},"y2":{"field":"v2"}}},
{"data":{"name":"rtr"},"mark":{"type":"rule","color":"#e00000","strokeWidth":2},"encoding":{"x":{"field":"i","type":"quantitative","scale":{"domain":[-0.5,226],"nice":false,"zero":false}},"x2":{"field":"i2"},"y":{"field":"v","type":"quantitative","scale":{"domain":[0,100],"nice":false,"zero":false}},"y2":{"field":"v2"}}},
{"data":{"name":"rl"},"mark":{"type":"rect","width":9,"height":7,"color":"#bcbcbc","clip":false},"encoding":{"x":{"datum":228.2,"type":"quantitative","scale":{"domain":[-0.5,226],"nice":false,"zero":false}},"y":{"field":"v","type":"quantitative","scale":{"domain":[0,100],"nice":false,"zero":false}}}},
{"data":{"name":"rl"},"mark":{"type":"text","fontSize":5,"align":"center","baseline":"middle","color":"#ffffff","clip":false},"encoding":{"x":{"datum":228.2,"type":"quantitative","scale":{"domain":[-0.5,226],"nice":false,"zero":false}},"y":{"field":"v","type":"quantitative","scale":{"domain":[0,100],"nice":false,"zero":false}},"text":{"field":"v"}}},
{"data":{"values":[{"t":"RSI(14) 63.4973"}]},"mark":{"type":"text","fontSize":7,"align":"left","baseline":"middle","color":"#000000"},"encoding":{"x":{"datum":0.8,"type":"quantitative","scale":{"domain":[-0.5,226],"nice":false,"zero":false}},"y":{"datum":85,"type":"quantitative","scale":{"domain":[0,100],"nice":false,"zero":false}},"text":{"field":"t"}}}
]},
{"width":607,"height":48,"layer":[
{"data":{"name":"sl"},"mark":{"type":"rule","color":"#c4c4c4","strokeWidth":1},"encoding":{"y":{"field":"v","type":"quantitative","scale":{"domain":[0,100],"nice":false,"zero":false},"axis":{"orient":"right","title":null,"values":[0,100],"labelFlush":true,"grid":false,"domain":false,"ticks":false,"labelPadding":5,"labelFontSize":6.5}}}},
{"data":{"name":"sk"},"mark":{"type":"line","color":"#6c9fe0","strokeWidth":2.2,"interpolate":"monotone"},"encoding":{"x":{"field":"i","type":"quantitative","scale":{"domain":[-0.5,226],"nice":false,"zero":false},"axis":{"title":null,"values":[0,8,16,24,32,40,48,56,64,72,80,88,96,104,112,120,128,136,144,152,160,168,176,184,192,200,208,216,224],"grid":true,"gridColor":"#c8c8c8","gridDash":[2,2],"ticks":false,"domain":false,"labelAlign":"left","labelBaseline":"top","labelPadding":3,"labelFontSize":7,"labelOverlap":false,"labelBound":false,"labelFlush":false,"labelExpr":"datum.value % 16 === 0 && datum.value <= 176 ? ['21 Jul 2025','24 Jul 04:00','28 Jul 20:00','31 Jul 12:00','5 Aug 04:00','7 Aug 20:00','12 Aug 12:00','15 Aug 04:00','19 Aug 20:00','22 Aug 12:00','27 Aug 04:00','29 Aug 20:00'][datum.value/16] : ''"}},"y":{"field":"v","type":"quantitative","scale":{"domain":[0,100],"nice":false,"zero":false}}}},
{"data":{"name":"sd"},"mark":{"type":"line","color":"#e01a1a","strokeWidth":2.2,"interpolate":"monotone"},"encoding":{"x":{"field":"i","type":"quantitative","scale":{"domain":[-0.5,226],"nice":false,"zero":false}},"y":{"field":"v","type":"quantitative","scale":{"domain":[0,100],"nice":false,"zero":false}}}},
{"data":{"name":"sbox"},"mark":{"type":"rect","filled":false,"color":"#e00000","strokeWidth":2,"clip":false},"encoding":{"x":{"field":"i","type":"quantitative","scale":{"domain":[-0.5,226],"nice":false,"zero":false}},"x2":{"field":"i2"},"y":{"field":"v","type":"quantitative","scale":{"domain":[0,100],"nice":false,"zero":false}},"y2":{"field":"v2"}}},
{"data":{"name":"sl"},"mark":{"type":"rect","width":9,"height":7,"color":"#bcbcbc","clip":false},"encoding":{"x":{"datum":228.2,"type":"quantitative","scale":{"domain":[-0.5,226],"nice":false,"zero":false}},"y":{"field":"v","type":"quantitative","scale":{"domain":[0,100],"nice":false,"zero":false}}}},
{"data":{"name":"sl"},"mark":{"type":"text","fontSize":5,"align":"center","baseline":"middle","color":"#ffffff","clip":false},"encoding":{"x":{"datum":228.2,"type":"quantitative","scale":{"domain":[-0.5,226],"nice":false,"zero":false}},"y":{"field":"v","type":"quantitative","scale":{"domain":[0,100],"nice":false,"zero":false}},"text":{"field":"v"}}},
{"data":{"values":[{"t":"Stoch(5,3,3) 87.9422 80.1730"}]},"mark":{"type":"text","fontSize":7,"align":"left","baseline":"middle","color":"#000000"},"encoding":{"x":{"datum":0.5,"type":"quantitative","scale":{"domain":[-0.5,226],"nice":false,"zero":false}},"y":{"datum":85,"type":"quantitative","scale":{"domain":[0,100],"nice":false,"zero":false}},"text":{"field":"t"}}}
]}
]
}
